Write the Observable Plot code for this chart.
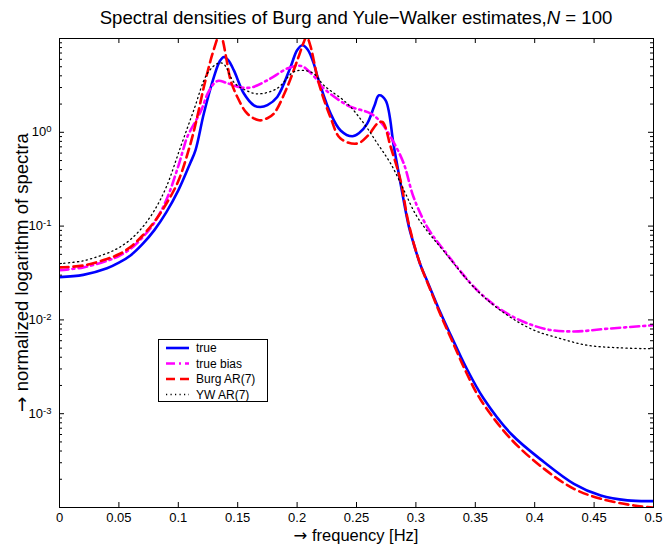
<!DOCTYPE html>
<html>
<head>
<meta charset="utf-8">
<script src="https://cdn.jsdelivr.net/npm/d3@7"></script>
<script src="https://cdn.jsdelivr.net/npm/@observablehq/plot@0.6"></script>
<style>
  body { margin: 0; background: #fff; }
  #chart svg { font-family: "Liberation Sans", Arial, sans-serif; }
</style>
</head>
<body>
<div id="chart"></div>
<script>
// ---- data (frequency in Hz, normalized spectrum) ----
const trueFreq  = [0, 0.02, 0.04, 0.05, 0.06, 0.07, 0.08, 0.09, 0.10, 0.11, 0.1145, 0.1215, 0.13, 0.135, 0.1384, 0.142, 0.1468, 0.1552, 0.1636, 0.169, 0.175, 0.1833, 0.1945, 0.2, 0.2044, 0.209, 0.2141, 0.217, 0.2282, 0.2366, 0.2465, 0.252, 0.259, 0.265, 0.2689, 0.2745, 0.2815, 0.288, 0.294, 0.2984, 0.304, 0.31, 0.3209, 0.33, 0.342, 0.357, 0.38, 0.408, 0.433, 0.4556, 0.478, 0.5];
const trueValue = [0.0286, 0.0302, 0.0355, 0.0407, 0.0490, 0.0646, 0.0912, 0.141, 0.240, 0.468, 0.646, 1.585, 3.89, 5.75, 6.35, 5.89, 4.57, 2.59, 1.94, 1.86, 1.95, 2.38, 4.98, 7.50, 8.47, 7.59, 5.37, 3.98, 1.585, 1.047, 0.906, 0.977, 1.239, 1.905, 2.48, 2.19, 0.697, 0.245, 0.100, 0.0631, 0.0380, 0.0251, 0.01175, 0.00661, 0.00316, 0.00145, 0.000611, 0.000304, 0.000179, 0.000134, 0.000119, 0.000117];

const biasFreq  = [0, 0.02, 0.04, 0.05, 0.06, 0.07, 0.08, 0.09, 0.10, 0.104, 0.1075, 0.1188, 0.125, 0.13, 0.134, 0.14, 0.152, 0.162, 0.175, 0.1917, 0.2, 0.205, 0.21, 0.217, 0.2198, 0.2423, 0.262, 0.2703, 0.2788, 0.2897, 0.298, 0.31, 0.3237, 0.3518, 0.377, 0.408, 0.433, 0.461, 0.498, 0.5];
const biasValue = [0.0339, 0.0363, 0.0427, 0.0479, 0.0575, 0.0759, 0.1096, 0.1905, 0.4365, 0.646, 0.891, 1.660, 2.630, 3.311, 3.548, 3.388, 3.020, 3.020, 3.589, 4.786, 5.129, 5.012, 4.467, 3.589, 3.162, 1.941, 1.585, 1.288, 0.891, 0.468, 0.204, 0.0955, 0.0551, 0.0206, 0.01164, 0.00805, 0.00753, 0.00805, 0.00873, 0.00877];

const burgFreq  = [0, 0.02, 0.04, 0.05, 0.06, 0.07, 0.08, 0.09, 0.10, 0.1103, 0.1159, 0.1215, 0.1272, 0.1328, 0.1345, 0.137, 0.1405, 0.144, 0.1497, 0.158, 0.168, 0.175, 0.1805, 0.1917, 0.2002, 0.2057, 0.208, 0.211, 0.2184, 0.228, 0.2366, 0.2507, 0.26, 0.2676, 0.2718, 0.2788, 0.287, 0.293, 0.2984, 0.304, 0.31, 0.3209, 0.33, 0.342, 0.3545, 0.38, 0.408, 0.433, 0.4556, 0.4837, 0.5];
const burgValue = [0.0363, 0.0380, 0.0447, 0.0501, 0.0603, 0.0794, 0.112, 0.174, 0.302, 0.759, 1.455, 3.04, 5.86, 10.0, 11.7, 10.0, 6.03, 3.59, 2.38, 1.585, 1.343, 1.413, 1.585, 3.04, 5.86, 9.18, 10.5, 8.51, 3.31, 1.455, 0.857, 0.759, 0.933, 1.239, 1.288, 0.697, 0.309, 0.120, 0.0640, 0.0380, 0.0245, 0.01122, 0.00617, 0.00282, 0.00141, 0.000537, 0.000258, 0.000158, 0.000124, 0.000105, 0.000100];

const ywFreq  = [0, 0.02, 0.04, 0.05, 0.06, 0.07, 0.08, 0.09, 0.1019, 0.113, 0.1244, 0.133, 0.138, 0.147, 0.155, 0.1665, 0.183, 0.197, 0.2057, 0.214, 0.2226, 0.2423, 0.2563, 0.2676, 0.2788, 0.29, 0.30, 0.31, 0.3237, 0.3518, 0.377, 0.3995, 0.422, 0.444, 0.4697, 0.4977, 0.5];
const ywValue = [0.0398, 0.0427, 0.0513, 0.0589, 0.0724, 0.0977, 0.148, 0.263, 0.697, 1.718, 4.227, 5.408, 5.37, 3.39, 2.88, 2.57, 2.924, 4.395, 4.571, 4.227, 3.162, 2.023, 1.239, 0.759, 0.463, 0.240, 0.132, 0.0871, 0.0537, 0.0204, 0.01122, 0.00776, 0.00631, 0.00537, 0.00505, 0.00493, 0.00493];

const seriesNames = ["true", "true bias", "Burg AR(7)", "YW AR(7)"];

const xTicks      = [0, 0.05, 0.1, 0.15, 0.2, 0.25, 0.3, 0.35, 0.4, 0.45, 0.5];
const xTickLabels = ["0", "0.05", "0.1", "0.15", "0.2", "0.25", "0.3", "0.35", "0.4", "0.45", "0.5"];
const yMajorTicks = [1e-4, 1e-3, 1e-2, 1e-1, 1, 10];
const yLabelTicks = [1e-3, 1e-2, 1e-1, 1];
const yTickLabels = ["10^-3", "10^-2", "10^-1", "10^0"];
const yMinorTicks = [2e-4,3e-4,4e-4,5e-4,6e-4,7e-4,8e-4,9e-4, 2e-3,3e-3,4e-3,5e-3,6e-3,7e-3,8e-3,9e-3, 2e-2,3e-2,4e-2,5e-2,6e-2,7e-2,8e-2,9e-2, 0.2,0.3,0.4,0.5,0.6,0.7,0.8,0.9, 2,3,4,5,6,7,8,9];

const titleText = "Spectral densities of Burg and Yule\u2212Walker estimates,";
const titleItalic = "N";
const titleTail = " = 100";
const arrow = "\u2192";
const xLabel = " frequency [Hz]";
const yLabel = " normalized logarithm of spectra";

// ---- layout ----
const W = 664, H = 545;
const mL = 59, mR = 11, mT = 38, mB = 38;
const innerW = W - mL - mR, innerH = H - mT - mB;

const rows = (f, v) => f.map((x, i) => ({f: x, v: v[i]}));
const lineOpts = {x: "f", y: "v", clip: true, curve: "catmull-rom", strokeLinejoin: "round"};

const styles = [
  {stroke: "#0000ff", strokeWidth: 2.6},
  {stroke: "#ff00ff", strokeWidth: 2.6, strokeDasharray: "9,4,2,4"},
  {stroke: "#ff0000", strokeWidth: 2.6, strokeDasharray: "9,5"},
  {stroke: "#000000", strokeWidth: 1.3, strokeDasharray: "1.2,3.3"}
];
const datasets = [rows(trueFreq, trueValue), rows(biasFreq, biasValue), rows(burgFreq, burgValue), rows(ywFreq, ywValue)];

const svg = Plot.plot({
  width: W, height: H,
  marginLeft: mL, marginRight: mR, marginTop: mT, marginBottom: mB,
  style: {fontFamily: "Liberation Sans, Arial, sans-serif", background: "white", overflow: "visible"},
  x: {domain: [0, 0.5]},
  y: {type: "log", domain: [1e-4, 10]},
  marks: [
    ...datasets.map((d, i) => Plot.line(d, {...lineOpts, ...styles[i]})),
    Plot.frame({stroke: "black", strokeWidth: 1}),
    Plot.tickX(xTicks, {x: d => d, insetTop: innerH - 5, stroke: "black"}),
    Plot.tickX(xTicks, {x: d => d, insetBottom: innerH - 5, stroke: "black"}),
    Plot.tickY(yMajorTicks, {y: d => d, insetRight: innerW - 5, stroke: "black"}),
    Plot.tickY(yMajorTicks, {y: d => d, insetLeft: innerW - 5, stroke: "black"}),
    Plot.tickY(yMinorTicks, {y: d => d, insetRight: innerW - 3, stroke: "black"}),
    Plot.tickY(yMinorTicks, {y: d => d, insetLeft: innerW - 3, stroke: "black"}),
    Plot.axisX({ticks: xTicks, tickSize: 0, tickPadding: 5.5, fontSize: 13, label: null,
      tickFormat: d => xTickLabels[xTicks.indexOf(d)], fill: "black"}),
    Plot.axisY({ticks: yLabelTicks, tickSize: 0, tickPadding: 8, fontSize: 13, label: null,
      tickFormat: d => yTickLabels[yLabelTicks.indexOf(d)], fill: "black"})
  ]
});

document.getElementById("chart").appendChild(svg);
const s = d3.select(svg);

// superscript exponents on the y tick labels
s.selectAll('g[aria-label="y-axis tick label"] text').each(function () {
  const t = d3.select(this);
  const parts = t.text().split("^");
  t.text(null);
  t.append("tspan").text(parts[0]);
  t.append("tspan").attr("dy", "-0.45em").attr("font-size", "9.5px").text(parts[1]);
});

// title
const title = s.append("text")
  .attr("x", mL + innerW / 2).attr("y", 24)
  .attr("text-anchor", "middle").attr("font-size", 18.6).attr("fill", "black");
title.append("tspan").text(titleText);
title.append("tspan").attr("font-style", "italic").text(titleItalic);
title.append("tspan").text(titleTail);

// axis labels
const xl = s.append("text")
  .attr("x", mL + innerW / 2).attr("y", 540.5)
  .attr("text-anchor", "middle").attr("font-size", 16.5).attr("fill", "black");
xl.append("tspan").attr("font-family", "DejaVu Sans").text(arrow);
xl.append("tspan").text(xLabel);
const yl = s.append("text")
  .attr("transform", `translate(28,${mT + innerH / 2}) rotate(-90)`)
  .attr("text-anchor", "middle").attr("font-size", 18.5).attr("fill", "black");
yl.append("tspan").attr("font-family", "DejaVu Sans").text(arrow);
yl.append("tspan").text(yLabel);

// legend
const lg = s.append("g").attr("transform", "translate(158.5,339.5)");
lg.append("rect").attr("width", 109).attr("height", 62)
  .attr("fill", "white").attr("stroke", "black").attr("stroke-width", 1);
seriesNames.forEach((name, i) => {
  const y = 8.5 + i * 15.5;
  lg.append("line").attr("x1", 7.5).attr("x2", 30.5).attr("y1", y).attr("y2", y)
    .attr("stroke", styles[i].stroke).attr("stroke-width", styles[i].strokeWidth)
    .attr("stroke-dasharray", styles[i].strokeDasharray || null);
  lg.append("text").attr("x", 37.5).attr("y", y).attr("dy", "0.35em")
    .attr("text-anchor", "start")
    .attr("font-size", 12).attr("fill", "black").text(name);
});
</script>
</body>
</html>
